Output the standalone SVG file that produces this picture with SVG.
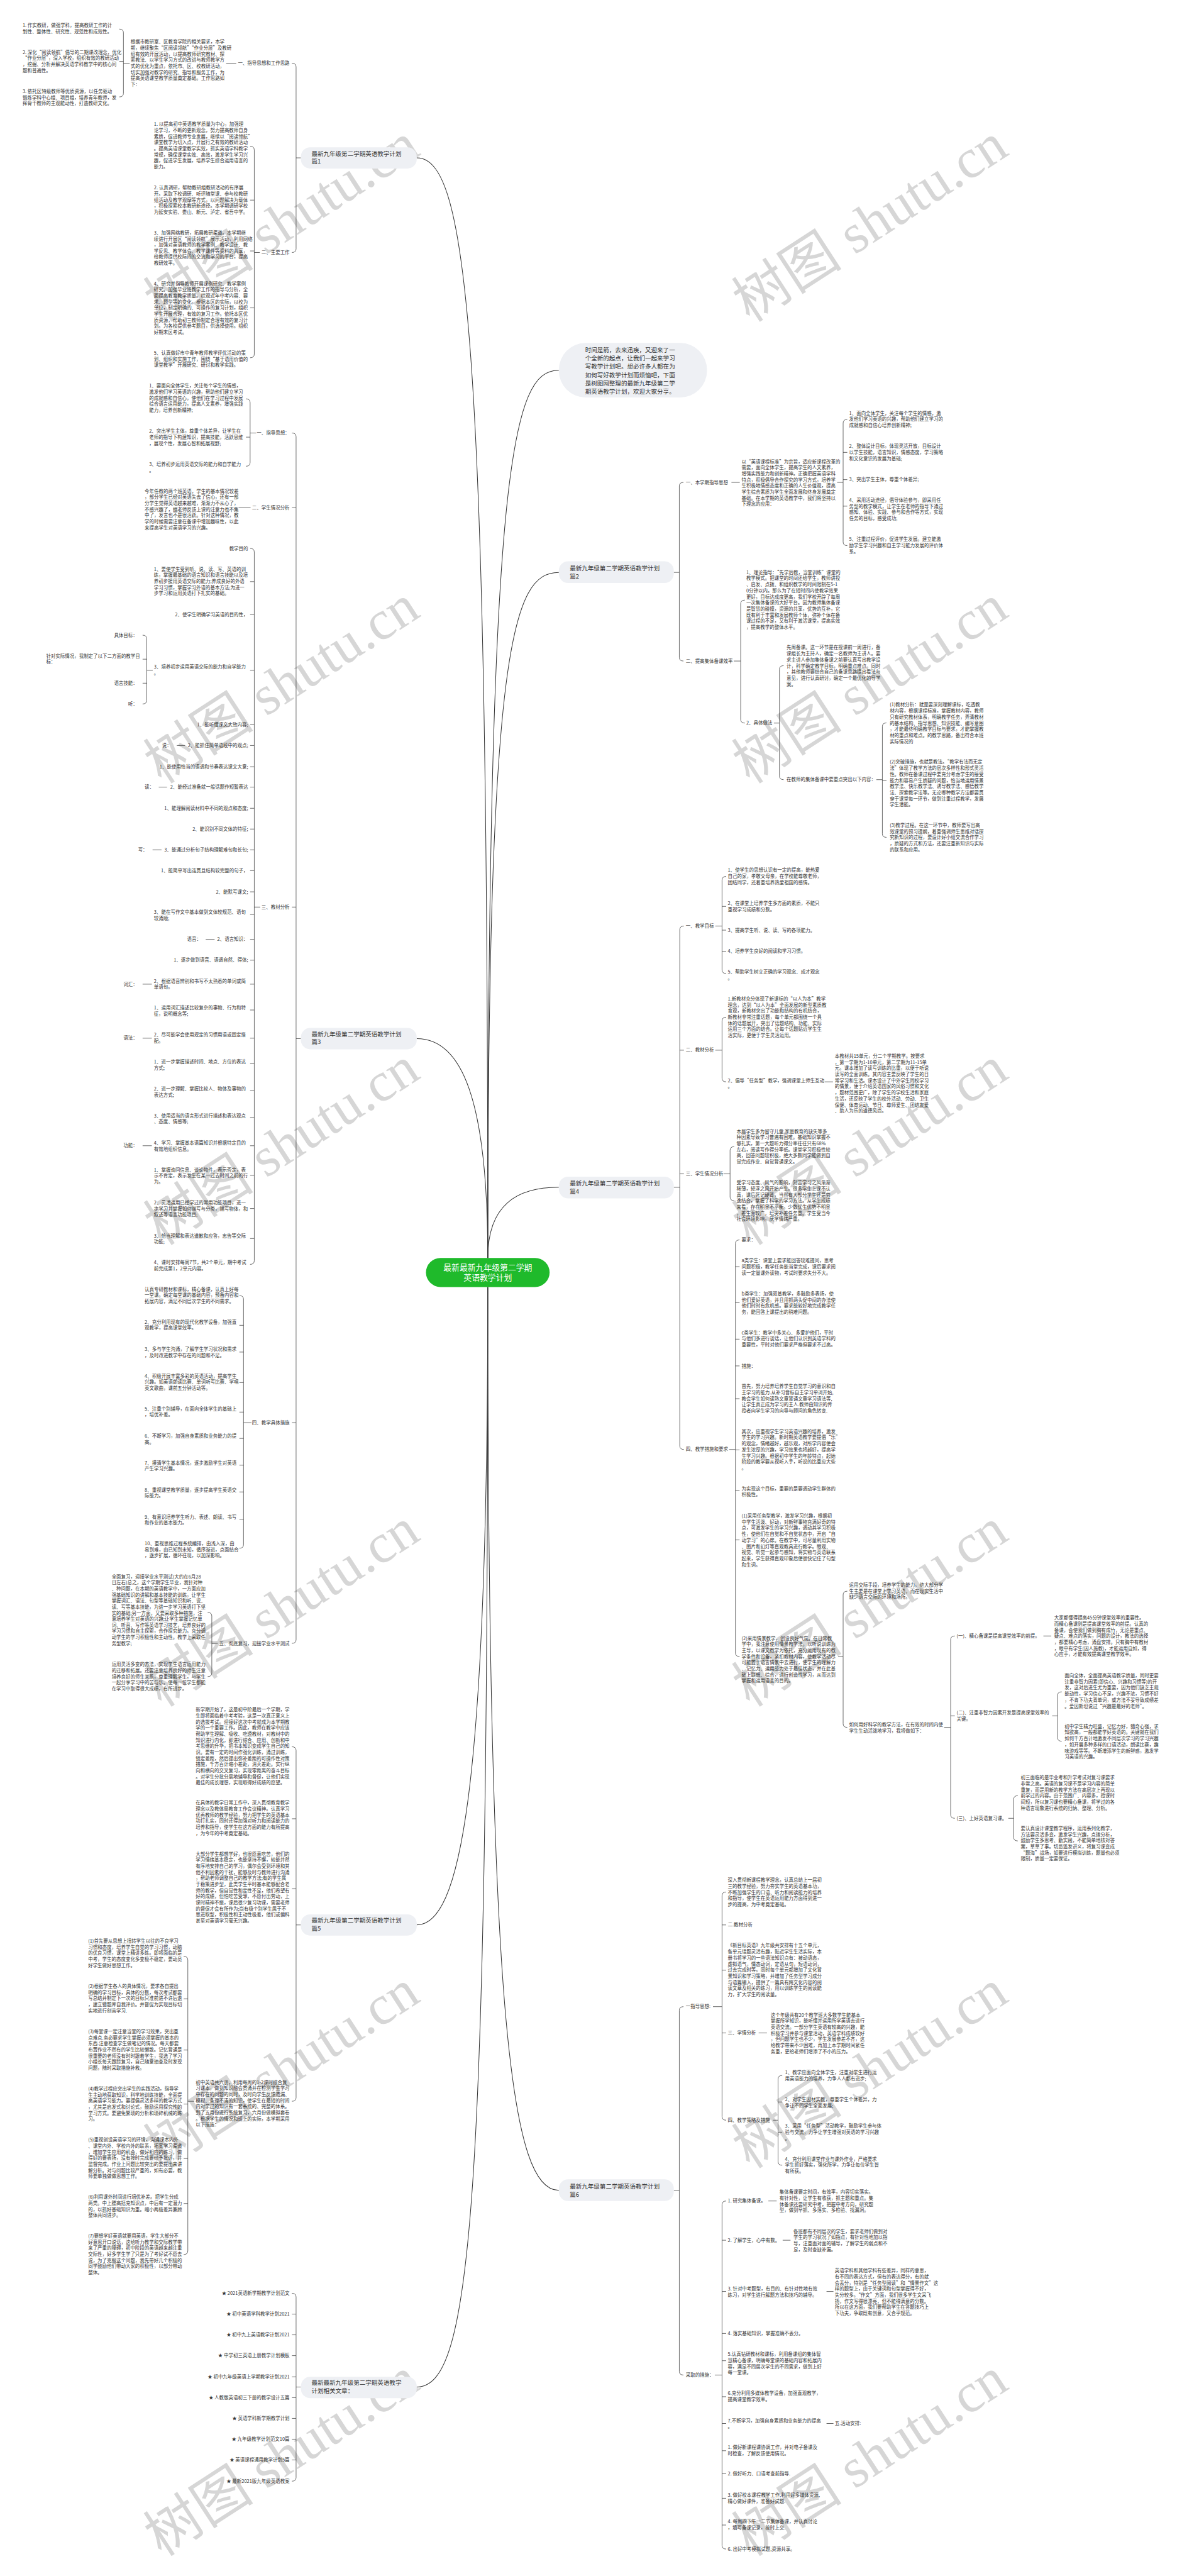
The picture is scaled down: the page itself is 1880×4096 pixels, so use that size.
<svg xmlns="http://www.w3.org/2000/svg" width="1880" height="4096" viewBox="0 0 1880 4096">
<style>
.p{font-family:"Noto Sans CJK SC","Noto Sans",sans-serif;font-size:10.2px;fill:#333}
.e{text-anchor:end}
.n{font-family:"Noto Sans CJK SC","Noto Sans",sans-serif;font-size:13px;fill:#333}
.c{font-family:"Noto Sans CJK SC","Noto Sans",sans-serif;font-size:17.5px;fill:#fff;text-anchor:middle}
.l{fill:none;stroke:#333;stroke-width:1}
.m{fill:none;stroke:#333;stroke-width:1.4}
.nb{fill:#eef0f4}
.w{font-family:"Liberation Serif","Noto Sans CJK SC",serif;font-size:120px;fill:#d6d6d6}
</style>
<rect width="1880" height="4096" fill="#fff"/>
<g transform="scale(0.734)">
<g id="watermarks">
<text class="w" transform="rotate(-33 350 700)" x="350" y="700">树图 shutu.cn</text>
<text class="w" transform="rotate(-33 350 1700)" x="350" y="1700">树图 shutu.cn</text>
<text class="w" transform="rotate(-33 350 2700)" x="350" y="2700">树图 shutu.cn</text>
<text class="w" transform="rotate(-33 350 3700)" x="350" y="3700">树图 shutu.cn</text>
<text class="w" transform="rotate(-33 350 4700)" x="350" y="4700">树图 shutu.cn</text>
<text class="w" transform="rotate(-33 350 5540)" x="350" y="5540">树图 shutu.cn</text>
<text class="w" transform="rotate(-33 1625 700)" x="1625" y="700">树图 shutu.cn</text>
<text class="w" transform="rotate(-33 1625 1700)" x="1625" y="1700">树图 shutu.cn</text>
<text class="w" transform="rotate(-33 1625 2700)" x="1625" y="2700">树图 shutu.cn</text>
<text class="w" transform="rotate(-33 1625 3700)" x="1625" y="3700">树图 shutu.cn</text>
<text class="w" transform="rotate(-33 1625 4700)" x="1625" y="4700">树图 shutu.cn</text>
<text class="w" transform="rotate(-33 1625 5540)" x="1625" y="5540">树图 shutu.cn</text>
</g>
<g id="connectors">
<path class="m" d="M1057,2725 C1057,700 1010,342 903,342"/>
<path class="m" d="M1057,2725 C1057,2380 1000,2250 903,2250"/>
<path class="m" d="M1057,2725 C1057,1000 1110,802 1211,802"/>
<path class="m" d="M1057,2725 C1057,1400 1110,1240 1211,1240"/>
<path class="m" d="M1057,2725 C1057,2610 1120,2572 1211,2572"/>
<path class="m" d="M1057,2788 C1057,3900 995,4170 903,4170"/>
<path class="m" d="M1057,2788 C1057,4800 1020,5171 903,5171"/>
<path class="m" d="M1057,2788 C1057,4400 1110,4745 1211,4745"/>
<path class="l" d="M632.6,137 Q641.6,137 641.6,145 L641.6,539 Q641.6,547 632.6,547 M641.6,342 H652"/>
<path class="l" d="M258.5,63 Q267.5,63 267.5,71 L267.5,202 Q267.5,210 258.5,210 M267.5,133 H258.5 M267.5,137 H281"/>
<path class="l" d="M490,137 H512"/>
<path class="l" d="M542,317 Q551,317 551,325 L551,767 Q551,775 542,775 M551,433.5 H542 M551,543.7 H542 M551,667 H542 M551,547 H563"/>
<path class="l" d="M632.6,938 Q641.6,938 641.6,946 L641.6,3552 Q641.6,3560 632.6,3560 M641.6,1100 H632.6 M641.6,1965 H632.6 M641.6,3082 H632.6 M641.6,2250 H652"/>
<path class="l" d="M533,864 Q542,864 542,872 L542,1002 Q542,1010 533,1010 M542,947 H533 M542,938 H555"/>
<path class="l" d="M517,1100 H543"/>
<path class="l" d="M542,1188 Q551,1188 551,1196 L551,2731 Q551,2739 542,2739 M551,1260 H542 M551,1331 H542 M551,1452 H542 M551,1570 H542 M551,1615 H542 M551,1661 H542 M551,1705 H542 M551,1751 H542 M551,1796 H542 M551,1841 H542 M551,1886 H542 M551,1932 H542 M551,1981 H542 M551,2035 H542 M551,2080 H542 M551,2132 H542 M551,2188 H542 M551,2249 H542 M551,2304 H542 M551,2363 H542 M551,2421 H542 M551,2482 H542 M551,2546 H542 M551,2618 H542 M551,2683 H542 M551,1965 H564"/>
<path class="l" d="M309,1376 Q318,1376 318,1384 L318,1517 Q318,1525 309,1525 M318,1428 H309 M318,1480 H309 M318,1452 H331"/>
<path class="l" d="M383,1615 H401 M344,1705 H362 M330.6,1841 H350 M445.7,2035 H465 M309,2132 H329 M309,2249 H329 M309,2482 H329"/>
<path class="l" d="M518.7,2806.6 Q527.7,2806.6 527.7,2814.6 L527.7,3346 Q527.7,3354 518.7,3354 M527.7,2871 H518.7 M527.7,2929 H518.7 M527.7,2995 H518.7 M527.7,3059 H518.7 M527.7,3116 H518.7 M527.7,3174 H518.7 M527.7,3232 H518.7 M527.7,3291 H518.7 M527.7,3082 H545"/>
<path class="l" d="M450,3493 Q459,3493 459,3501 L459,3624 Q459,3632 450,3632 M459,3560 H472"/>
<path class="l" d="M632.6,3784 Q641.6,3784 641.6,3792 L641.6,4544 Q641.6,4552 632.6,4552 M641.6,3940 H632.6 M641.6,4091.5 H632.6 M641.6,4170 H652"/>
<path class="l" d="M398,4238 Q407,4238 407,4246 L407,4876 Q407,4884 398,4884 M407,4330 H398 M407,4441 H398 M407,4558 H398 M407,4676 H398 M407,4773.5 H398 M407,4552 H421"/>
<path class="l" d="M632.6,4968 Q641.6,4968 641.6,4976 L641.6,5367 Q641.6,5375 632.6,5375 M641.6,5013 H632.6 M641.6,5058 H632.6 M641.6,5103 H632.6 M641.6,5149 H632.6 M641.6,5194 H632.6 M641.6,5239 H632.6 M641.6,5284 H632.6 M641.6,5329 H632.6 M641.6,5171 H652"/>
<path class="l" d="M1481,1045 Q1472,1045 1472,1053 L1472,1424 Q1472,1432 1481,1432 M1460,1240 H1472"/>
<path class="l" d="M1585,1045 H1603"/>
<path class="l" d="M1836,908.6 Q1827,908.6 1827,916.6 L1827,1174 Q1827,1182 1836,1182 M1827,980 H1836 M1827,1039 H1836 M1827,1096.5 H1836 M1814,1045 H1827"/>
<path class="l" d="M1614,1300 Q1605,1300 1605,1308 L1605,1558.4 Q1605,1566.4 1614,1566.4 M1590,1432 H1605"/>
<path class="l" d="M1698,1442 Q1689,1442 1689,1450 L1689,1681 Q1689,1689 1698,1689 M1677,1566.4 H1689"/>
<path class="l" d="M1921,1566 Q1912,1566 1912,1574 L1912,1806 Q1912,1814 1921,1814 M1912,1691 H1921 M1899,1689 H1912"/>
<path class="l" d="M1482,2006 Q1473,2006 1473,2014 L1473,3132 Q1473,3140 1482,3140 M1473,2275 H1482 M1473,2543 H1482 M1460,2572 H1473"/>
<path class="l" d="M1573.6,1898.6 Q1564.6,1898.6 1564.6,1906.6 L1564.6,2101 Q1564.6,2109 1573.6,2109 M1564.6,1963.6 H1573.6 M1564.6,2015 H1573.6 M1564.6,2061 H1573.6 M1550,2006 H1564.6"/>
<path class="l" d="M1573.6,2203.6 Q1564.6,2203.6 1564.6,2211.6 L1564.6,2335.6 Q1564.6,2343.6 1573.6,2343.6 M1550,2275 H1564.6"/>
<path class="l" d="M1787,2343.6 H1805"/>
<path class="l" d="M1591,2484 Q1582,2484 1582,2492 L1582,2593 Q1582,2601 1591,2601 M1568,2543 H1582"/>
<path class="l" d="M1602.6,2686 Q1593.6,2686 1593.6,2694 L1593.6,3580.6 Q1593.6,3588.6 1602.6,3588.6 M1593.6,2744 H1602.6 M1593.6,2822 H1602.6 M1593.6,2901 H1602.6 M1593.6,2959 H1602.6 M1593.6,3030 H1602.6 M1593.6,3141 H1602.6 M1593.6,3229 H1602.6 M1593.6,3336 H1602.6 M1580,3140 H1593.6"/>
<path class="l" d="M1836,3447 Q1827,3447 1827,3455 L1827,3734 Q1827,3742 1836,3742 M1816,3588.6 H1827"/>
<path class="l" d="M2069,3544 Q2060,3544 2060,3552 L2060,3931 Q2060,3939 2069,3939 M2060,3717 H2069 M2046,3742 H2060"/>
<path class="l" d="M2261,3544 H2278"/>
<path class="l" d="M2300.6,3665 Q2291.6,3665 2291.6,3673 L2291.6,3764 Q2291.6,3772 2300.6,3772 M2280,3717 H2291.6"/>
<path class="l" d="M2205.5,3890 Q2196.5,3890 2196.5,3898 L2196.5,3980 Q2196.5,3988 2205.5,3988 M2185,3939 H2196.5"/>
<path class="l" d="M1481,4347 Q1472,4347 1472,4355 L1472,5137 Q1472,5145 1481,5145 M1460,4745 H1472"/>
<path class="l" d="M1573.6,4098.6 Q1564.6,4098.6 1564.6,4106.6 L1564.6,4585 Q1564.6,4593 1573.6,4593 M1564.6,4170 H1573.6 M1564.6,4268 H1573.6 M1564.6,4404 H1573.6 M1545,4347 H1564.6"/>
<path class="l" d="M1644,4404 H1662"/>
<path class="l" d="M1695,4496 Q1686,4496 1686,4504 L1686,4682.6 Q1686,4690.6 1695,4690.6 M1686,4553.5 H1695 M1686,4619 H1695 M1675,4593 H1686"/>
<path class="l" d="M1573.6,4768 Q1564.6,4768 1564.6,4776 L1564.6,5514 Q1564.6,5522 1573.6,5522 M1564.6,4853 H1573.6 M1564.6,4964 H1573.6 M1564.6,5055 H1573.6 M1564.6,5114 H1573.6 M1564.6,5192 H1573.6 M1564.6,5250 H1573.6 M1564.6,5309 H1573.6 M1564.6,5359 H1573.6 M1564.6,5412 H1573.6 M1564.6,5470 H1573.6 M1549,5145 H1564.6"/>
<path class="l" d="M1665,4768 H1683 M1696,4853 H1713 M1791,4964 H1806 M1791,5250 H1806"/>
</g>

<g id="center">
<rect x="923" y="2725" width="268" height="63" rx="31.5" fill="#1fba2b"/>
<text class="c" x="1057" y="2751.8">最新最新九年级第二学期</text>
<text class="c" x="1057" y="2774.4">英语教学计划</text>
</g>

<g id="intro">
<rect class="nb" x="1211" y="743" width="321" height="118" rx="58"/>
<text class="n" x="1268" y="763.2">时间是箭，去来迅疾，又迎来了一<tspan x="1268" dy="17.9">个全新的起点，让我们一起来学习</tspan><tspan x="1268" dy="17.9">写教学计划吧。想必许多人都在为</tspan><tspan x="1268" dy="17.9">如何写好教学计划而烦恼吧，下面</tspan><tspan x="1268" dy="17.9">是树图网整理的最新九年级第二学</tspan><tspan x="1268" dy="17.9">期英语教学计划，欢迎大家分享。</tspan></text>
</g>

<!-- 篇1 -->
<g id="b1">
<rect class="nb" x="652" y="319" width="251" height="46" rx="20"/>
<text class="n" x="675" y="337.2">最新九年级第二学期英语教学计划<tspan x="675" dy="17.5">篇1</tspan></text>
</g>
<g id="b1-c1"><text class="p e" x="627.5" y="140.6">一、指导思想和工作思路</text></g>
<g id="b1-c1-p"><text class="p" x="283" y="94.6">根据市教研室、区教育学院的相关要求，本学<tspan x="283" dy="13.15">期，继续聚焦“区阅读领航”“作业分层”及教研</tspan><tspan x="283" dy="13.15">组有效的开展活动，以提高教师研究教材、探</tspan><tspan x="283" dy="13.15">索教法、以学生学习方式的改进与教师教学方</tspan><tspan x="283" dy="13.15">式的优化为重点，依托市、区、校教研活动，</tspan><tspan x="283" dy="13.15">切实加强对教学的研究、指导和服务工作，为</tspan><tspan x="283" dy="13.15">提高英语课堂教学质量奠定基础。工作思路如</tspan><tspan x="283" dy="13.15">下：</tspan></text></g>
<g id="b1-a1"><text class="p" x="49" y="58.6">1. 作实教研，做强学科，提高教研工作的计<tspan x="49" dy="13.15">划性、整体性、研究性、规范性和成效性。</tspan></text></g>
<g id="b1-a2"><text class="p" x="49" y="116.6">2. 深化“阅读领航”倡导的二期课改理念，优化<tspan x="49" dy="13.15">“作业分层”，深入学校，组织有效的教研活动</tspan><tspan x="49" dy="13.15">，挖掘、分析并解决英语学科教学中的核心问</tspan><tspan x="49" dy="13.15">题和普遍性。</tspan></text></g>
<g id="b1-a3"><text class="p" x="49" y="201.6">3. 依托区特级教师等优质资源，以任务驱动<tspan x="49" dy="13.15">锻炼学科中心组、项目组，培养青年教师，发</tspan><tspan x="49" dy="13.15">挥骨干教师的主观能动性，打造教研文化。</tspan></text></g>
<g id="b1-c2"><text class="p e" x="627.5" y="550.6">二、主要工作</text></g>
<g id="b1-c2-1"><text class="p" x="333.6" y="273">1. 以提高初中英语教学质量为中心，加强理<tspan x="333.6" dy="13.15">论学习，不断的更新观念，努力提高教师自身</tspan><tspan x="333.6" dy="13.15">素质，促进教师专业发展，继续以“阅读领航”</tspan><tspan x="333.6" dy="13.15">课堂教学为切入点，开展行之有效的教研活动</tspan><tspan x="333.6" dy="13.15">。提高英语课堂教学实效，抓实英语学科教学</tspan><tspan x="333.6" dy="13.15">常规，确保课堂实效、高效，激发学生学习兴</tspan><tspan x="333.6" dy="13.15">趣，促进学生发展，培养学生综合运用语言的</tspan><tspan x="333.6" dy="13.15">能力。</tspan></text></g>
<g id="b1-c2-2"><text class="p" x="333.6" y="410.5">2. 认真调研，帮助教研组教研活动的有序展<tspan x="333.6" dy="13.15">开。采取下校调研、听评随堂课、参与校教研</tspan><tspan x="333.6" dy="13.15">组活动及教学观摩等方式，以问题解决为载体</tspan><tspan x="333.6" dy="13.15">，积极探索校本教研新途径。本学期调研学校</tspan><tspan x="333.6" dy="13.15">为延安实验、娄山、新元、泸定、省吾中学。</tspan></text></g>
<g id="b1-c2-3"><text class="p" x="333.6" y="508">3、加强网络教研，拓展教研渠道。本学期继<tspan x="333.6" dy="13.15">续进行开展区“阅读领航”展示活动，利用网络</tspan><tspan x="333.6" dy="13.15">，加强对英语教师的教学案例、教学设计、教</tspan><tspan x="333.6" dy="13.15">学反思、教学体会、教学课件等资料的共享，</tspan><tspan x="333.6" dy="13.15">给教师提供校际间的交流和学习的平台，提高</tspan><tspan x="333.6" dy="13.15">教研效率。</tspan></text></g>
<g id="b1-c2-4"><text class="p" x="333.6" y="618.1">4、研究并指导教师开展课例研究、教学案例<tspan x="333.6" dy="13.15">研究。加强毕业班教学工作的指导与分析，全</tspan><tspan x="333.6" dy="13.15">面提高教育教学质量。综观近年中考内容、要</tspan><tspan x="333.6" dy="13.15">求、题型等的变化，根据本区的实际，以校为</tspan><tspan x="333.6" dy="13.15">单位，制定明确的、可操作的复习计划，组织</tspan><tspan x="333.6" dy="13.15">学生开展合理，有效的复习工作。依托本区优</tspan><tspan x="333.6" dy="13.15">质资源，帮助初三教师制定合理有效的复习计</tspan><tspan x="333.6" dy="13.15">划。为各校提供参考题目，供选择使用。组织</tspan><tspan x="333.6" dy="13.15">好期末区考试。</tspan></text></g>
<g id="b1-c2-5"><text class="p" x="333.6" y="768.2">5、认真做好市中青年教师教学评优活动的策<tspan x="333.6" dy="13.15">划、组织和实施工作，围绕“基于语用价值的</tspan><tspan x="333.6" dy="13.15">课堂教学”开展研究、研讨和教学实践。</tspan></text></g>

<!-- 篇3 -->
<g id="b3">
<rect class="nb" x="652" y="2227" width="251" height="46" rx="20"/>
<text class="n" x="675" y="2244.6">最新九年级第二学期英语教学计划<tspan x="675" dy="17.5">篇3</tspan></text>
</g>
<g id="b3-c1"><text class="p e" x="627.5" y="941.6">一、指导思想：</text></g>
<g id="b3-c1-1"><text class="p" x="323.2" y="839.6">1、要面向全体学生，关注每个学生的情感，<tspan x="323.2" dy="13.15">激发他们学习英语的兴趣，帮助他们建立学习</tspan><tspan x="323.2" dy="13.15">的成就感和自信心，使他们在学习过程中发展</tspan><tspan x="323.2" dy="13.15">综合语言运用能力，提高人文素养，增强实践</tspan><tspan x="323.2" dy="13.15">能力，培养创新精神;</tspan></text></g>
<g id="b3-c1-2"><text class="p" x="323.2" y="937.6">2、突出学生主体，尊重个体差异，让学生在<tspan x="323.2" dy="13.15">老师的指导下构建知识，提高技能，活跃思维</tspan><tspan x="323.2" dy="13.15">，展现个性，发展心智和拓展视野;</tspan></text></g>
<g id="b3-c1-3"><text class="p" x="323.2" y="1009.6">3、培养初步运用英语交际的能力和自学能力<tspan x="323.2" dy="13.15">。</tspan></text></g>
<g id="b3-c2"><text class="p e" x="627.5" y="1103.6">二、学生情况分析</text></g>
<g id="b3-c2-1"><text class="p" x="313.5" y="1067.6">今年任教的两个班英语，学生的基本情况较差<tspan x="313.5" dy="13.15">，部分学生已经对英语失去了信心，还有一部</tspan><tspan x="313.5" dy="13.15">分学生觉得英语越来越难，渐渐力不从心了，</tspan><tspan x="313.5" dy="13.15">不感兴趣了，据老师反馈上课的注意力也不集</tspan><tspan x="313.5" dy="13.15">中了，发言也不是很活跃。针对这种情况，教</tspan><tspan x="313.5" dy="13.15">学的时候需要注意在备课中增加趣味性，以此</tspan><tspan x="313.5" dy="13.15">来提高学生对英语学习的兴趣。</tspan></text></g>
<g id="b3-c3"><text class="p e" x="627.5" y="1968.6">三、教材分析</text></g>
<g id="b3-c3-items">
<text class="p e" x="537.5" y="1191.6">教学目的</text>
<text class="p" x="333.6" y="1236.6">1、要使学生受到听、说、读、写、英语的训<tspan x="333.6" dy="13.15">练，掌握最基础的语言知识和语言技能以及培</tspan><tspan x="333.6" dy="13.15">养初步援用英语交际的能力;养成良好的外语</tspan><tspan x="333.6" dy="13.15">学习习惯，掌握学习外语的基本方法;为进一</tspan><tspan x="333.6" dy="13.15">步学习和运用英语打下扎实的基础。</tspan></text>
<text class="p e" x="537.5" y="1334.6">2、使学生明确学习英语的目的性，</text>
<text class="p" x="333.6" y="1448.1">3、培养初步运用英语交际的能力和自学能力<tspan x="333.6" dy="13.15">。</tspan></text>
<text class="p e" x="298" y="1379.6">具体目标：</text>
<text class="p" x="100" y="1424.6">针对实际情况，我制定了以下二方面的教学目<tspan x="100" dy="13.15">标：</tspan></text>
<text class="p e" x="298" y="1483.6">语言技能：</text>
<text class="p e" x="298" y="1528.6">听：</text>
<text class="p e" x="537.5" y="1573.6">1、能听懂课文大致内容;</text>
<text class="p e" x="537.5" y="1618.6">2、能抓住简单语段中的观点;</text>
<text class="p e" x="371.6" y="1618.6">说：</text>
<text class="p e" x="537.5" y="1664.6">1、能使用恰当的语调和节奏表达课文大意;</text>
<text class="p e" x="537.5" y="1708.6">2、能经过准备就一般话题作短暂表达</text>
<text class="p e" x="333.6" y="1708.6">读：</text>
<text class="p e" x="537.5" y="1754.6">1、能理解阅读材料中不同的观点和态度;</text>
<text class="p e" x="537.5" y="1799.6">2、能识别不同文体的特征;</text>
<text class="p e" x="537.5" y="1844.6">3、能通过分析句子结构理解难句和长句;</text>
<text class="p e" x="319.6" y="1844.6">写：</text>
<text class="p e" x="537.5" y="1889.6">1、能简单写出连贯且结构较完整的句子，</text>
<text class="p e" x="537.5" y="1935.6">2、能默写课文;</text>
<text class="p" x="333.6" y="1979.6">3、能在写作文中基本做到文体较规范、语句<tspan x="333.6" dy="13.15">较通顺;</tspan></text>
<text class="p e" x="537.5" y="2038.6">2、语言知识：</text>
<text class="p e" x="436" y="2038.6">语音：</text>
<text class="p e" x="537.5" y="2083.6">1、逐步做到语音、语调自然、得体;</text>
<text class="p" x="333.6" y="2129.2">2、根据语音辨别和书写不太熟悉的单词或简<tspan x="333.6" dy="13.15">单语句。</tspan></text>
<text class="p e" x="298" y="2135.6">词汇：</text>
<text class="p" x="333.6" y="2186.6">1、运用词汇描述比较复杂的事物、行为和特<tspan x="333.6" dy="13.15">征，说明概念等;</tspan></text>
<text class="p" x="333.6" y="2245.6">2、尽可能学会使用规定的习惯用语或固定搭<tspan x="333.6" dy="13.15">配。</tspan></text>
<text class="p e" x="298" y="2252.6">语法：</text>
<text class="p" x="333.6" y="2304.2">1、进一步掌握描述时间、地点、方位的表达<tspan x="333.6" dy="13.15">方式;</tspan></text>
<text class="p" x="333.6" y="2362.6">2、进一步理解、掌握比较人、物体及事物的<tspan x="333.6" dy="13.15">表达方式;</tspan></text>
<text class="p" x="333.6" y="2420.6">3、使用适当的语言形式进行描述和表达观点<tspan x="333.6" dy="13.15">、态度、情感等;</tspan></text>
<text class="p" x="333.6" y="2479.6">4、学习、掌握基本语篇知识并根据特定目的<tspan x="333.6" dy="13.15">有效地组织信息。</tspan></text>
<text class="p e" x="298" y="2485.6">功能：</text>
<text class="p" x="333.6" y="2537.6">1、掌握询问信息、谈论物件，表示否定，表<tspan x="333.6" dy="13.15">示不肯定，表示发生在某一过去时间之前的行</tspan><tspan x="333.6" dy="13.15">为。</tspan></text>
<text class="p" x="333.6" y="2609.1">2、灵活运用已经学过的常用功能项目，进一<tspan x="333.6" dy="13.15">步学习并掌握如何描写与分类，描写物体，和</tspan><tspan x="333.6" dy="13.15">叙述等语言功能项目;</tspan></text>
<text class="p" x="333.6" y="2680.6">3、恰当理解和表达道歉和应答，忠告等交际<tspan x="333.6" dy="13.15">功能;</tspan></text>
<text class="p" x="333.6" y="2738.6">4、课时安排每周7节，共2个单元，期中考试<tspan x="333.6" dy="13.15">前完成第1，2单元内容。</tspan></text>
</g>
<g id="b3-c4"><text class="p e" x="627.5" y="3085.6">四、教学具体措施</text></g>
<g id="b3-c4-items">
<text class="p" x="313.5" y="2796.6">认真专研教材和课标，精心备课，认真上好每<tspan x="313.5" dy="13.15">一堂课。确定每堂课的基础内容，预备内容和</tspan><tspan x="313.5" dy="13.15">拓展内容，满足不同层次学生的不同需求。</tspan></text>
<text class="p" x="313.5" y="2867.6">2、充分利用现有的现代化教学设备，加强直<tspan x="313.5" dy="13.15">观教学，提高课堂效率。</tspan></text>
<text class="p" x="313.5" y="2926.6">3、多与学生沟通，了解学生学习状况和需求<tspan x="313.5" dy="13.15">，及时改进教学中存在的问题和不足。</tspan></text>
<text class="p" x="313.5" y="2984.6">4、积极开展丰富多彩的英语活动，提高学生<tspan x="313.5" dy="13.15">兴趣。如英语朗读比赛、单词听写比赛、学唱</tspan><tspan x="313.5" dy="13.15">英文歌曲，课前五分钟活动等。</tspan></text>
<text class="p" x="313.5" y="3055.6">5、注重个别辅导，在面向全体学生的基础上<tspan x="313.5" dy="13.15">，培优补差。</tspan></text>
<text class="p" x="313.5" y="3114.6">6、不断学习，加强自身素质和业务能力的提<tspan x="313.5" dy="13.15">高。</tspan></text>
<text class="p" x="313.5" y="3172.6">7、摸清学生基本情况，逐步激励学生对英语<tspan x="313.5" dy="13.15">产生学习兴趣。</tspan></text>
<text class="p" x="313.5" y="3231.1">8、重视课堂教学质量，逐步提高学生英语交<tspan x="313.5" dy="13.15">际能力。</tspan></text>
<text class="p" x="313.5" y="3289.6">9、有意识培养学生听力、表述、朗读、书写<tspan x="313.5" dy="13.15">和作业的基本能力。</tspan></text>
<text class="p" x="313.5" y="3347.6">10、重视思维过程系统编排，由浅入深，由<tspan x="313.5" dy="13.15">易到难，由已知到未知，循序渐进，点面结合</tspan><tspan x="313.5" dy="13.15">，逐步扩展，循环往现，以加深影响。</tspan></text>
</g>
<g id="b3-c5"><text class="p e" x="627.5" y="3563.6">五、彻底复习，迎接学业水平测试</text></g>
<g id="b3-c5-items">
<text class="p" x="242" y="3419.1">全面复习，迎接学业水平测试(大约在6月28<tspan x="242" dy="13.15">日左右)总之，这个学期学生毕业，我针对种</tspan><tspan x="242" dy="13.15">、种问题，在本期的英语教学中，一方面应加</tspan><tspan x="242" dy="13.15">强基础知识的讲解和基本技能的训练，让学生</tspan><tspan x="242" dy="13.15">掌握词汇、语法、句型等基础知识和听、说、</tspan><tspan x="242" dy="13.15">读、写等基本技能，为进一步学习英语打下坚</tspan><tspan x="242" dy="13.15">实的基础;另一方面，又要采取多种措施，注</tspan><tspan x="242" dy="13.15">意培养学生对英语的兴趣;让学生掌握记忆单</tspan><tspan x="242" dy="13.15">词、听音、写作等英语学习技艺，培养良好的</tspan><tspan x="242" dy="13.15">学习习惯和自主探索，合作探究能力。充分调</tspan><tspan x="242" dy="13.15">动学生的学习积极性和主动性。教学上采取任</tspan><tspan x="242" dy="13.15">务型教学;</tspan></text>
<text class="p" x="242" y="3609.6">运用灵活多变的方法，实现学生语言运用能力<tspan x="242" dy="13.15">的迁移和拓展。还要注意培养良好的师生注意</tspan><tspan x="242" dy="13.15">培养良好的师生关系，尊重理解学生，与学生</tspan><tspan x="242" dy="13.15">一起分享学习中的苦与乐。使每一位学生都能</tspan><tspan x="242" dy="13.15">在学习中取得很大成绩，有所进步。</tspan></text>
</g>

<!-- 篇5 -->
<g id="b5">
<rect class="nb" x="652" y="4147" width="251" height="46" rx="20"/>
<text class="n" x="675" y="4164.6">最新九年级第二学期英语教学计划<tspan x="675" dy="17.5">篇5</tspan></text>
</g>
<g id="b5-items">
<text class="p" x="424" y="3707.6">新学期开始了，这是初中阶最后一个学期，学<tspan x="424" dy="13.15">生即将面临着中考考验，这是一次真正意义上</tspan><tspan x="424" dy="13.15">的选拔考试。迎接好这次中考就成为本学期教</tspan><tspan x="424" dy="13.15">学的一个重要工作。因此，教师在教学中应该</tspan><tspan x="424" dy="13.15">帮助学生理解、吸收、吃透教材，对教材中的</tspan><tspan x="424" dy="13.15">知识进行内化，即进行综合、应用、创新和中</tspan><tspan x="424" dy="13.15">考思维的升华，把书本知识变成学生自己的知</tspan><tspan x="424" dy="13.15">识。要有一定的时间作强化训练，通过训练，</tspan><tspan x="424" dy="13.15">锁定差距，然后提出弥补差距的可操作性对策</tspan><tspan x="424" dy="13.15">措施，千方百计缩小差距，消灭差距。实行纵</tspan><tspan x="424" dy="13.15">向和横向的交叉复习，实现零距离的奋斗目标</tspan><tspan x="424" dy="13.15">。对学生分批分层地辅导和督促，让他们实现</tspan><tspan x="424" dy="13.15">最佳的成长理想，实现取得好成绩的愿望。</tspan></text>
<text class="p" x="424" y="3909.2">在具体的教学日常工作中，深入贯彻教育教学<tspan x="424" dy="13.15">理念以及教体局教育工作会议精神。认真学习</tspan><tspan x="424" dy="13.15">优秀教师的教学经验，努力把学生的英语基本</tspan><tspan x="424" dy="13.15">功打扎实，同时还得加强对听力和阅读能力的</tspan><tspan x="424" dy="13.15">培养和指导，使学生在这方面的能力有所提高</tspan><tspan x="424" dy="13.15">，为今年的中考奠定基础。</tspan></text>
<text class="p" x="424" y="4020.2">大部分学生都想学好，也很愿意吃苦，他们的<tspan x="424" dy="13.15">学习情绪基本稳定，也能坚持不懈，较能井然</tspan><tspan x="424" dy="13.15">有序地安排自己的学习，偶尔会受到环境和其</tspan><tspan x="424" dy="13.15">他不利因素的干扰，能够及时与教师进行沟通</tspan><tspan x="424" dy="13.15">，帮助老师调整自己的教学方法;有的学生属</tspan><tspan x="424" dy="13.15">于稳策进步型，此类学生平时基本能够配合老</tspan><tspan x="424" dy="13.15">师的教学，但自觉性和定性不足，他们希望有</tspan><tspan x="424" dy="13.15">好的成绩，但怕吃苦受罪，不愿付出劳动，上</tspan><tspan x="424" dy="13.15">课时精神不振，课后很少复习功课，需要老师</tspan><tspan x="424" dy="13.15">的督促才会有所作为;尚有极个别学生属于不</tspan><tspan x="424" dy="13.15">思进取型，积极性和主动性极差，他们或偏科</tspan><tspan x="424" dy="13.15">甚至对英语学习毫无兴趣。</tspan></text>
<text class="p" x="424" y="4514.6">初中英语共六册，利用每周的1-2课时综合复<tspan x="424" dy="13.15">习课本，做到知识融会贯通并在检测学生学习</tspan><tspan x="424" dy="13.15">中存在的问题的同时，及时向学生反馈遗漏、</tspan><tspan x="424" dy="13.15">模糊、条理不清的知识，使学生在最短的时间</tspan><tspan x="424" dy="13.15">内对学过的知识有一套系统的、完整的体系。</tspan><tspan x="424" dy="13.15">到了五月份进行系统复习，六月份做模拟套卷</tspan><tspan x="424" dy="13.15">。根据学生的情况和班上的实际，本学期采用</tspan><tspan x="424" dy="13.15">以下措施：</tspan></text>
</g>
<g id="b5-sub">
<text class="p" x="191" y="4208.6">(1)首先要从思想上扭转学生以往的不良学习<tspan x="191" dy="13.15">习惯和态度，培养学生自觉的学习习惯，动脑</tspan><tspan x="191" dy="13.15">的优良习惯，课堂上精讲多练。即将面临的是</tspan><tspan x="191" dy="13.15">中考，学生的态度变化多变极不稳定，要动员</tspan><tspan x="191" dy="13.15">好学生做好思想工作。</tspan></text>
<text class="p" x="191" y="4306.6">(2)根据学生各人的具体情况，要求各自提出<tspan x="191" dy="13.15">明确的学习目标，具体的分数，每次考试都要</tspan><tspan x="191" dy="13.15">写总结并制定下一次的目标只准前进不许后退</tspan><tspan x="191" dy="13.15">，建立错题库自我评价。并督促为实现目标切</tspan><tspan x="191" dy="13.15">实地进行刻苦学习.</tspan></text>
<text class="p" x="191" y="4404.6">(3)每堂课一定注意当堂的学习效果，突出重<tspan x="191" dy="13.15">点难点.务必要求学生掌握必须掌握的基本的</tspan><tspan x="191" dy="13.15">东西.注意检查学生做笔记的情况。每天都要</tspan><tspan x="191" dy="13.15">布置作业不然有的学生比较懒散。记忆背诵是</tspan><tspan x="191" dy="13.15">很重要的老师没有时时跟着学生，我选了学习</tspan><tspan x="191" dy="13.15">小组长每天跟踪复习，自己随意抽查及时发现</tspan><tspan x="191" dy="13.15">问题，随时采取措施补救。</tspan></text>
<text class="p" x="191" y="4528.6">(4)教学过程应突出学生的实践活动，指导学<tspan x="191" dy="13.15">生主动地获取知识，科学地训练技能，全面提</tspan><tspan x="191" dy="13.15">高英语学习能力。要提倡灵活多样的教学方式</tspan><tspan x="191" dy="13.15">，尤其是启发式和讨论式，鼓励运用探究性的</tspan><tspan x="191" dy="13.15">学习方式。要避免繁琐的分析和琐碎机械的练</tspan><tspan x="191" dy="13.15">习。</tspan></text>
<text class="p" x="191" y="4639.6">(5)重视创设英语学习的环境，沟通课本内外<tspan x="191" dy="13.15">、课堂内外、学校内外的联系，拓宽学习渠道</tspan><tspan x="191" dy="13.15">，增加学生应用的机会，做好相应的练习，做</tspan><tspan x="191" dy="13.15">得好的要表扬，没有按时完成要给予批评，并</tspan><tspan x="191" dy="13.15">监督完成。作业上问题比较突出的要提出来讲</tspan><tspan x="191" dy="13.15">解分析。对与问题比较严重的，如有必要，教</tspan><tspan x="191" dy="13.15">师要单独做做思想工作。</tspan></text>
<text class="p" x="191" y="4763.6">(6)利用课外时间进行培优补差。把学生分成<tspan x="191" dy="13.15">两类。中上腰高括充知识点，中后有一定潜力</tspan><tspan x="191" dy="13.15">的，以抓好基础知识为重。缩小两极差异兼顾</tspan><tspan x="191" dy="13.15">整体共同进步。</tspan></text>
<text class="p" x="191" y="4847.6">(7)要想学好英语就要用英语，学生大部分不<tspan x="191" dy="13.15">好意思开口说话，这给听力教学和交际教学带</tspan><tspan x="191" dy="13.15">来了严重的障碍，初中阶段的英语越来越注重</tspan><tspan x="191" dy="13.15">交际性，好多学生学了只是为了考好试不愿去</tspan><tspan x="191" dy="13.15">说，为了克服这个问题，我先带好几个积极的</tspan><tspan x="191" dy="13.15">同学鼓励他们带动大家的积极性，以部分带动</tspan><tspan x="191" dy="13.15">整体。</tspan></text>
</g>

<!-- related -->
<g id="rel">
<rect class="nb" x="652" y="5149" width="251" height="46" rx="20"/>
<text class="n" x="675" y="5166.6">最新最新九年级第二学期英语教学<tspan x="675" dy="17.5">计划相关文章：</tspan></text>
</g>
<g id="rel-items">
<text class="p e" x="627.5" y="4971.6">★ 2021英语新学期教学计划范文</text>
<text class="p e" x="627.5" y="5016.6">★ 初中英语学科教学计划2021</text>
<text class="p e" x="627.5" y="5061.6">★ 初中九上英语教学计划2021</text>
<text class="p e" x="627.5" y="5106.6">★ 中学初三英语上册教学计划模板</text>
<text class="p e" x="627.5" y="5152.6">★ 初中九年级英语上学期教学计划2021</text>
<text class="p e" x="627.5" y="5197.6">★ 人教版英语初三下册的教学设计五篇</text>
<text class="p e" x="627.5" y="5242.6">★ 英语学科新学期教学计划</text>
<text class="p e" x="627.5" y="5287.6">★ 九年级教学计划范文10篇</text>
<text class="p e" x="627.5" y="5332.6">★ 英语课程通用教学计划5篇</text>
<text class="p e" x="627.5" y="5378.6">★ 最新2021版九年级英语教案</text>
</g>

<!-- 篇2 -->
<g id="b2">
<rect class="nb" x="1211" y="1216" width="249" height="47" rx="20"/>
<text class="n" x="1234.6" y="1235.6">最新九年级第二学期英语教学计划<tspan x="1234.6" dy="17.5">篇2</tspan></text>
</g>
<g id="b2-c1"><text class="p" x="1486" y="1048.6">一、本学期指导思想</text></g>
<g id="b2-c1-p"><text class="p" x="1607" y="1003.6">以“英语课程标准”为宗旨，适应新课程改革的<tspan x="1607" dy="13.2">需要，面向全体学生，提高学生的人文素养，</tspan><tspan x="1607" dy="13.2">增强实践能力和创新精神。正确把握英语学科</tspan><tspan x="1607" dy="13.2">特点，积极倡导合作探究的学习方式，培养学</tspan><tspan x="1607" dy="13.2">生积极地情感态度和正确的人生价值观，提高</tspan><tspan x="1607" dy="13.2">学生综合素质为学生全面发展和终身发展奠定</tspan><tspan x="1607" dy="13.2">基础。在本学期的英语教学中，我们将坚持以</tspan><tspan x="1607" dy="13.2">下理念的应用：</tspan></text></g>
<g id="b2-c1-items">
<text class="p" x="1840" y="898.6">1、面向全体学生，关注每个学生的情感，激<tspan x="1840" dy="13.2">发他们学习英语的兴趣，帮助他们建立学习的</tspan><tspan x="1840" dy="13.2">成就感和自信心培养创新精神;</tspan></text>
<text class="p" x="1840" y="970.6">2、整体设计目标，体现灵活开放，目标设计<tspan x="1840" dy="13.2">以学生技能，语言知识，情感态度，学习策略</tspan><tspan x="1840" dy="13.2">和文化意识的发展为基础;</tspan></text>
<text class="p" x="1840" y="1042.6">3、突出学生主体，尊重个体差异;</text>
<text class="p" x="1840" y="1087.2">4、采用活动途径，倡导体验参与，即采用任<tspan x="1840" dy="13.2">务型的教学模式，让学生在老师的指导下通过</tspan><tspan x="1840" dy="13.2">感知、体验、实践、参与和合作等方式，实现</tspan><tspan x="1840" dy="13.2">任务的目标，感受成功;</tspan></text>
<text class="p" x="1840" y="1172.2">5、注重过程评价，促进学生发展。建立能激<tspan x="1840" dy="13.2">励学生学习兴趣和自主学习能力发展的评价体</tspan><tspan x="1840" dy="13.2">系。</tspan></text>
</g>
<g id="b2-c2"><text class="p" x="1486" y="1435.6">二、提高集体备课效率</text></g>
<g id="b2-c2-items">
<text class="p" x="1617" y="1243.6">1、理论指导：“先学后教，当堂训练”课堂的<tspan x="1617" dy="13.2">教学模式。把课堂的时间还给学生，教师讲授</tspan><tspan x="1617" dy="13.2">、启发、点拨、和组织教学的时间限制在5-1</tspan><tspan x="1617" dy="13.2">0分钟以内。那么为了在短时间内使教学效果</tspan><tspan x="1617" dy="13.2">更好，目标达成度更高，我们学校开辟了每周</tspan><tspan x="1617" dy="13.2">一次集体备课的大好平台。因为教师集体备课</tspan><tspan x="1617" dy="13.2">是智慧的碰撞，资源的共享，优势的互补，它</tspan><tspan x="1617" dy="13.2">既有利于丰富和发展教师个体，弥补个体在备</tspan><tspan x="1617" dy="13.2">课过程的不足，又有利于激活课堂，提高实效</tspan><tspan x="1617" dy="13.2">，提高教学的整体水平。</tspan></text>
<text class="p" x="1617" y="1570">2、具体做法</text>
<text class="p" x="1704.5" y="1406.6">先周备课。这一环节是在授课前一周进行，备<tspan x="1704.5" dy="13.2">课组长为主持人，确定一名教师为主讲人。要</tspan><tspan x="1704.5" dy="13.2">求主讲人参加集体备课之前要认真写出教学设</tspan><tspan x="1704.5" dy="13.2">计，科学确定教学目标，明确重点难点。同时</tspan><tspan x="1704.5" dy="13.2">，其他教师要结合自己的备课思路提出看法与</tspan><tspan x="1704.5" dy="13.2">意见，进行认真研讨，确定一个最优化的导学</tspan><tspan x="1704.5" dy="13.2">案。</tspan></text>
<text class="p" x="1704.5" y="1692.6">在教师的集体备课中要重点突出以下内容：</text>
<text class="p" x="1928" y="1530.6">(1)教材分析：就是要深刻理解课标，吃透教<tspan x="1928" dy="13.2">材内容，根据课程标准，掌握教材内容，教师</tspan><tspan x="1928" dy="13.2">只有研究教材体系，明确教学任务，弄清教材</tspan><tspan x="1928" dy="13.2">的基本结构、指导思想、知识技能、编写意图</tspan><tspan x="1928" dy="13.2">，才能最终明确教学目标与要求，才能掌握教</tspan><tspan x="1928" dy="13.2">材的重点和难点。的教学思路，备出符合本班</tspan><tspan x="1928" dy="13.2">实际情况的</tspan></text>
<text class="p" x="1928" y="1654.6">(2)突破措施，也就是教法。“教学有法而无定<tspan x="1928" dy="13.2">法”体现了教学方法的层次多样性和形式灵活</tspan><tspan x="1928" dy="13.2">性。教师在备课过程中要充分考虑学生的接受</tspan><tspan x="1928" dy="13.2">能力和容易产生质疑的问题，恰当地运用情景</tspan><tspan x="1928" dy="13.2">教学法、快乐教学法、诱导教学法、感悟教学</tspan><tspan x="1928" dy="13.2">法、探索教学法等。无论哪种教学方法都要贯</tspan><tspan x="1928" dy="13.2">穿于课堂每一环节，做到注重过程教学，发展</tspan><tspan x="1928" dy="13.2">学生潜能。</tspan></text>
<text class="p" x="1928" y="1791.6">(3)教学过程。在这一环节中，教师要写出高<tspan x="1928" dy="13.2">效课堂的预习提纲，着重强调师生思维对话探</tspan><tspan x="1928" dy="13.2">究新知识的过程，要设计好小组交流合作学习</tspan><tspan x="1928" dy="13.2">，质疑的方式和方法，还要注重新知识与实际</tspan><tspan x="1928" dy="13.2">的联系和应用。</tspan></text>
</g>

<!-- 篇4 -->
<g id="b4">
<rect class="nb" x="1211" y="2549" width="249" height="47" rx="20"/>
<text class="n" x="1234.6" y="2568.2">最新九年级第二学期英语教学计划<tspan x="1234.6" dy="17.5">篇4</tspan></text>
</g>
<g id="b4-c1"><text class="p" x="1486" y="2009.3">一、教学目标</text></g>
<g id="b4-c1-items">
<text class="p" x="1577" y="1888.6">1、使学生的思想认识有一定的提高，能热爱<tspan x="1577" dy="13.2">自己的家，孝敬父母亲，在学校能尊敬老师，</tspan><tspan x="1577" dy="13.2">团结同学，还着重培养热爱祖国的感情。</tspan></text>
<text class="p" x="1577" y="1960.6">2、在课堂上培养学生多方面的素质，不能只<tspan x="1577" dy="13.2">重视学习成绩和分数。</tspan></text>
<text class="p" x="1577" y="2018.6">3、提高学生听、说、读、写的各项能力。</text>
<text class="p" x="1577" y="2064.6">4、培养学生良好的阅读和学习习惯。</text>
<text class="p" x="1577" y="2109.6">5、帮助学生树立正确的学习观念、成才观念<tspan x="1577" dy="13.2">。</tspan></text>
</g>
<g id="b4-c2"><text class="p" x="1486" y="2278.6">二、教材分析</text></g>
<g id="b4-c2-items">
<text class="p" x="1577" y="2167.6">1.新教材充分体现了新课标的“以人为本”教学<tspan x="1577" dy="13.2">理念，达到“以人为本”全面发展的新型素质教</tspan><tspan x="1577" dy="13.2">育观，新教材突出了功能和结构的有机结合，</tspan><tspan x="1577" dy="13.2">新教材非常注重话题，每个单元都围绕一个具</tspan><tspan x="1577" dy="13.2">体的话题展开，突出了话题结构、功能、实际</tspan><tspan x="1577" dy="13.2">运用三个方面的结合。让每个话题贴近学生生</tspan><tspan x="1577" dy="13.2">活实际，更便于学生灵活运用。</tspan></text>
<text class="p" x="1577" y="2344.3">2、倡导“任务型”教学，强调课堂上师生互动<tspan x="1577" dy="13.2">。</tspan></text>
<text class="p" x="1809" y="2291.6">本教材共15单元，分二个学期教学。按要求<tspan x="1809" dy="13.2">，第一学期为1-10单元，第二学期为11-15单</tspan><tspan x="1809" dy="13.2">元。课本增加了读写训练的比重，以便于听说</tspan><tspan x="1809" dy="13.2">读写的全面训练。其内容主要反映了学生的日</tspan><tspan x="1809" dy="13.2">常学习和生活。课本设计了中外学生同校学习</tspan><tspan x="1809" dy="13.2">的情景，便于介绍英语国家的风俗习惯和文化</tspan><tspan x="1809" dy="13.2">，题材范围更广，除了学生的学校生活和家庭</tspan><tspan x="1809" dy="13.2">生活，还反映了学生的校外活动、劳动、卫生</tspan><tspan x="1809" dy="13.2">保健、体育运动、节日、尊师爱生、团结友爱</tspan><tspan x="1809" dy="13.2">、助人为乐的道德风尚。</tspan></text>
</g>
<g id="b4-c3"><text class="p" x="1486" y="2546.6">三、学生情况分析</text></g>
<g id="b4-c3-items">
<text class="p" x="1596" y="2454.6">本届学生多为留守儿童,家庭教育的缺失等多<tspan x="1596" dy="13.2">种因素导致学习普遍有困难。基础知识掌握不</tspan><tspan x="1596" dy="13.2">够扎实，第一大题听力得分率往往只有68%</tspan><tspan x="1596" dy="13.2">左右，阅读写作得分率低。课堂学习积极性较</tspan><tspan x="1596" dy="13.2">高，回答问题较积极，绝大多数同学能做到自</tspan><tspan x="1596" dy="13.2">觉完成作业、自觉背诵课文。</tspan></text>
<text class="p" x="1596" y="2565.6">受学习态度、风气的影响，刻苦学习之风渐渐<tspan x="1596" dy="13.2">稀薄，轻浮之风开始产生。很多学生上课不认</tspan><tspan x="1596" dy="13.2">真，课后死记硬背，当然有大部分学生还是劳</tspan><tspan x="1596" dy="13.2">逸结合，掌握了科学的学习方法。从学生成绩</tspan><tspan x="1596" dy="13.2">来看，存在明显不平衡。少数优生优势不明显</tspan><tspan x="1596" dy="13.2">，差生面较广，培尖补差任务重。学生受当今</tspan><tspan x="1596" dy="13.2">社会环境影响，厌学情绪严重。</tspan></text>
</g>
<g id="b4-c4"><text class="p" x="1486" y="3143.6">四、教学措施和要求</text></g>
<g id="b4-c4-items">
<text class="p" x="1607" y="2689.6">要求：</text>
<text class="p" x="1607" y="2734.6">a类学生：课堂上要求能回答较难提问，思考<tspan x="1607" dy="13.2">问题积极，教学任务能当堂完成，课后要求阅</tspan><tspan x="1607" dy="13.2">读一定量课外读物，考试时要求失分不大。</tspan></text>
<text class="p" x="1607" y="2806.6">b类学生：加强双基教学，多鼓励多表扬，使<tspan x="1607" dy="13.2">他们爱好英语，并且用抓两头促中间的办法使</tspan><tspan x="1607" dy="13.2">他们时时有危机感。要求能较好地完成教学任</tspan><tspan x="1607" dy="13.2">务，能回答上课提出的稍难问题。</tspan></text>
<text class="p" x="1607" y="2890.6">c类学生：教学中多关心、多爱护他们，平时<tspan x="1607" dy="13.2">与他们多进行谈话，让他们认识到英语学科的</tspan><tspan x="1607" dy="13.2">重要性，平时对他们要求严格但要求不过高。</tspan></text>
<text class="p" x="1607" y="2962.6">措施：</text>
<text class="p" x="1607" y="3007.2">首先，努力培养培养学生自觉学习的意识和自<tspan x="1607" dy="13.2">主学习的能力.从补习音标自主学习单词开始,</tspan><tspan x="1607" dy="13.2">教会学生如何读熟文章背诵文章学习语法等,</tspan><tspan x="1607" dy="13.2">让学生真正成为学习的主人.教师由知识的传</tspan><tspan x="1607" dy="13.2">授者向学生学习的向导与顾问的角色转变.</tspan></text>
<text class="p" x="1607" y="3104.6">其次，应重视学生学习英语兴趣的培养，激发<tspan x="1607" dy="13.2">学生的学习兴趣。新时期英语教学要提倡“乐”</tspan><tspan x="1607" dy="13.2">的观念，情绪越好，越乐观，对所学内容便会</tspan><tspan x="1607" dy="13.2">发生浓厚的兴趣，学习效果也将越好，提高学</tspan><tspan x="1607" dy="13.2">生学习兴趣。根据初中学生的年龄特点，起始</tspan><tspan x="1607" dy="13.2">阶段的教学要从视听入手，听说的比重应大些</tspan><tspan x="1607" dy="13.2">。</tspan></text>
<text class="p" x="1607" y="3228.6">为实现这个目标，重要的是要调动学生群体的<tspan x="1607" dy="13.2">积极性。</tspan></text>
<text class="p" x="1607" y="3287.6">(1)采用任务型教学，激发学习兴趣，根据初<tspan x="1607" dy="13.2">中学生活泼、好动，对新鲜事物充满好奇的特</tspan><tspan x="1607" dy="13.2">点，可激发学生的学习兴趣，调动其学习积极</tspan><tspan x="1607" dy="13.2">性，使他们在自觉和不自觉状态中，开启“自</tspan><tspan x="1607" dy="13.2">动学习”的心扉。在教学中，可尽量利用实物</tspan><tspan x="1607" dy="13.2">、图片和幻灯等直观教具进行教学。眼观、</tspan><tspan x="1607" dy="13.2">视觉、听觉一起参与感知，将实物与英语联系</tspan><tspan x="1607" dy="13.2">起来，学生获得直观印象后便很快记住了句型</tspan><tspan x="1607" dy="13.2">和生词。</tspan></text>
<text class="p" x="1607" y="3552.6">(2)采用情景教学，创设良好气氛。在日常教<tspan x="1607" dy="13.2">学中，我注意使用情景教学法。以听说训练为</tspan><tspan x="1607" dy="13.2">主导，以课文教学为依托，充分运用现有的教</tspan><tspan x="1607" dy="13.2">学条件和设备，紧扣教材内容，使教学活动尽</tspan><tspan x="1607" dy="13.2">可能置于语言情景中去进行，使学生的理解力</tspan><tspan x="1607" dy="13.2">、记忆力、运用能力处于最佳状态，并在此基</tspan><tspan x="1607" dy="13.2">础上联想、综合，进行创造性学习，从而达到</tspan><tspan x="1607" dy="13.2">掌握和运用语言的目的。</tspan></text>
<text class="p" x="1840" y="3437.2">运用交际手段，培养学生的能力。绝大部分学<tspan x="1840" dy="13.2">生主要是在课堂上学习英语，而在现实生活中</tspan><tspan x="1840" dy="13.2">缺少语言交际的环境和场所。</tspan></text>
<text class="p" x="1840" y="3739.6">如何用好科学的教学方法，在有效的时间内使<tspan x="1840" dy="13.2">学生生动活泼地学习，我将做如下：</tspan></text>
<text class="p" x="2073" y="3547.6">(一)、精心备课是提高课堂效率的前提。</text>
<text class="p" x="2284.5" y="3508.6">大家都懂得提高45分钟课堂效率的重要性。<tspan x="2284.5" dy="13.2">而精心备课则是提高课堂效率的前提。认真的</tspan><tspan x="2284.5" dy="13.2">备课，会使我们做到胸有成竹，无论是重点、</tspan><tspan x="2284.5" dy="13.2">疑点、难点的落实，问题的设计，教法的选择</tspan><tspan x="2284.5" dy="13.2">，都要精心考虑，通盘安排。只有胸中有教材</tspan><tspan x="2284.5" dy="13.2">，眼中有学生(因人施教)，才能运用自如，得</tspan><tspan x="2284.5" dy="13.2">心应手，才能有效提高课堂教学效率。</tspan></text>
<text class="p" x="2073" y="3714.3">(二)、注重非智力因素开发是提高课堂效率的<tspan x="2073" dy="13.2">关键。</tspan></text>
<text class="p" x="2307" y="3633.6">面向全体，全面提高英语教学质量，同时更要<tspan x="2307" dy="13.2">注重非智力因素(即信心、兴趣和习惯等)的开</tspan><tspan x="2307" dy="13.2">发，这对后进生尤为重要，因为他们缺乏主观</tspan><tspan x="2307" dy="13.2">能动性，学习信心不足，兴趣不浓，习惯不好</tspan><tspan x="2307" dy="13.2">，不肯下功夫背单词，或方法不妥导致成绩差</tspan><tspan x="2307" dy="13.2">。爱因斯坦说过“兴趣是最好的老师”。</tspan></text>
<text class="p" x="2307" y="3743.6">初中学生精力旺盛，记忆力好，猎奇心强，求<tspan x="2307" dy="13.2">知欲高，一般都能学好英语的。关键就在我们</tspan><tspan x="2307" dy="13.2">如何千方百计地激发不同层次学习的学习兴趣</tspan><tspan x="2307" dy="13.2">，如开展多种多样的口语活动，朗读比赛，趣</tspan><tspan x="2307" dy="13.2">味游戏等等。不断增添学生的新鲜感，激发学</tspan><tspan x="2307" dy="13.2">习英语的兴趣。</tspan></text>
<text class="p" x="2073" y="3942.6">(三)、上好英语复习课。</text>
<text class="p" x="2212" y="3854.6">初三面临的是毕业考和升学考试对复习课要求<tspan x="2212" dy="13.2">非常之高。英语的复习课不是学习内容的简单</tspan><tspan x="2212" dy="13.2">重复，而是用新的教学方法在高层次上再现以</tspan><tspan x="2212" dy="13.2">前学过的内容。由于范围广、内容多，授课时</tspan><tspan x="2212" dy="13.2">间短，所以复习课也要精心备课，将学过的各</tspan><tspan x="2212" dy="13.2">种语言现象进行系统的归纳、整理、分析。</tspan></text>
<text class="p" x="2212" y="3964.6">要认真设计课堂教学程序，运用系列化教学，<tspan x="2212" dy="13.2">方法要灵活多变，激发学生兴趣，点拨分析，</tspan><tspan x="2212" dy="13.2">鼓励学生多思考、勤实践，不能简单地核对答</tspan><tspan x="2212" dy="13.2">案，草草了事。切忌滥发讲义，将复习课变成</tspan><tspan x="2212" dy="13.2">“题海”战场，如要进行模拟训练，题量也必须</tspan><tspan x="2212" dy="13.2">限制，质量一定要保证。</tspan></text>
</g>

<!-- 篇6 -->
<g id="b6">
<rect class="nb" x="1211" y="4721" width="249" height="47" rx="20"/>
<text class="n" x="1234.6" y="4741.6">最新九年级第二学期英语教学计划<tspan x="1234.6" dy="17.5">篇6</tspan></text>
</g>
<g id="b6-c1"><text class="p" x="1486" y="4350.6">一指导思想:</text></g>
<g id="b6-c1-items">
<text class="p" x="1577" y="4076.6">深入贯彻新课程教学理念，认真总结上一届初<tspan x="1577" dy="13.2">三的教学经验，努力夯实学生的英语基本功，</tspan><tspan x="1577" dy="13.2">不断加强学生的口语、听力和阅读能力的培养</tspan><tspan x="1577" dy="13.2">和指导，使学生在英语运用能力方面得到进一</tspan><tspan x="1577" dy="13.2">步的提高，为中考奠定基础。</tspan></text>
<text class="p" x="1577" y="4173.6">二.教材分析</text>
<text class="p" x="1577" y="4218.6">《新目标英语》九年级共安排有十五个单元，<tspan x="1577" dy="13.2">各单元话题灵活有趣，贴近学生生活实际，本</tspan><tspan x="1577" dy="13.2">册书将学习的一些语法知识点有：被动语态，</tspan><tspan x="1577" dy="13.2">虚拟语气，情态动词，定语从句，短语动词，</tspan><tspan x="1577" dy="13.2">过去完成时等。同时每个单元都增加了文化背</tspan><tspan x="1577" dy="13.2">景知识和学习策略，并增加了任务型学习成分</tspan><tspan x="1577" dy="13.2">与语篇输入，提供了一篇具有跨文化内容的阅</tspan><tspan x="1577" dy="13.2">读文章及相关的练习，用以训练学生的阅读能</tspan><tspan x="1577" dy="13.2">力，扩大学生的阅读量。</tspan></text>
<text class="p" x="1577" y="4407.6">三、学情分析</text>
<text class="p" x="1670" y="4368.6">这个年级共有20个教学班大多数学生能基本<tspan x="1670" dy="13.2">掌握所学知识，能听懂并运用所学英语去进行</tspan><tspan x="1670" dy="13.2">英语交流。一部分学生英语有较高的兴趣，能</tspan><tspan x="1670" dy="13.2">积极学习并参与课堂活动，英语学科成绩较好</tspan><tspan x="1670" dy="13.2">，但问题学生也不少，学生发展参差不齐，这</tspan><tspan x="1670" dy="13.2">给教学带来不少困难，再加上本学期时间紧任</tspan><tspan x="1670" dy="13.2">务重，更给老师们增添了不小的压力。</tspan></text>
<text class="p" x="1577" y="4596.6">四、教学策略及措施</text>
<text class="p" x="1701" y="4493.6">1、教学应面向全体学生，注重对学生进行运<tspan x="1701" dy="13.2">用英语能力的培养，力争人人都有进步;</tspan></text>
<text class="p" x="1701" y="4551.6">2、对学生因材实教，尊重学生个体差异，力<tspan x="1701" dy="13.2">争让不同学生全面发展;</tspan></text>
<text class="p" x="1701" y="4609.6">3、采用“任务型”活动教学，鼓励学生参与体<tspan x="1701" dy="13.2">验与交流，力争让学生增强对英语的学习兴趣</tspan><tspan x="1701" dy="13.2">。</tspan></text>
<text class="p" x="1701" y="4680.6">4、充分利用课堂作业与课外作业，严格要求<tspan x="1701" dy="13.2">学生抓好落实，强化所学，力争让每位学生皆</tspan><tspan x="1701" dy="13.2">有所获。</tspan></text>
</g>
<g id="b6-c2"><text class="p" x="1486" y="5148.6">采取的措施：</text></g>
<g id="b6-c2-items">
<text class="p" x="1577" y="4771.6">1. 研究集体备课。</text>
<text class="p" x="1689" y="4752.6">集体备课要定时间，有效率，内容切实落实。<tspan x="1689" dy="13.2">有针对性，让学生有收获，抓主题和重点。集</tspan><tspan x="1689" dy="13.2">体备课还要研究中考，把握中考方向，研究题</tspan><tspan x="1689" dy="13.2">型，做到早抓、多落实、多检验、找漏洞。</tspan></text>
<text class="p" x="1577" y="4856.6">2. 了解学生，心中有数。</text>
<text class="p" x="1719.5" y="4837.6">各班都有不同层次的学生，要求老师们做到对<tspan x="1719.5" dy="13.2">学生的学习状况了如指点，有针对性地加以指</tspan><tspan x="1719.5" dy="13.2">导，注重面对面的辅导，了解学生的弱点和不</tspan><tspan x="1719.5" dy="13.2">足，及时查缺补漏。</tspan></text>
<text class="p" x="1577" y="4961.6">3. 针对中考题型，有目的、有针对性地有效<tspan x="1577" dy="13.2">练习，对学生进行解题方法和技巧的辅导。</tspan></text>
<text class="p" x="1809" y="4922.6">英语学科和其他学科有些差异，同样的意思，<tspan x="1809" dy="13.2">有不同的表达方式，但有的表达得分，有的就</tspan><tspan x="1809" dy="13.2">会丢分，特别是“任务型阅读”和“情景作文”这</tspan><tspan x="1809" dy="13.2">样的题型上，由于关键词和句型掌握得不好，</tspan><tspan x="1809" dy="13.2">失分较多。“作文”方面，我们很多学生文采飞</tspan><tspan x="1809" dy="13.2">扬，作文写得很漂亮，但不能得满意的分数。</tspan><tspan x="1809" dy="13.2">所以在这方面，我们要帮助学生在答题技巧上</tspan><tspan x="1809" dy="13.2">下功夫，争取既有创意，又合乎规范。</tspan></text>
<text class="p" x="1577" y="5058.6">4. 落实基础知识，掌握准确不丢分。</text>
<text class="p" x="1577" y="5104.1">5.认真钻研教材和课标，利用备课组的集体智<tspan x="1577" dy="13.2">慧精心备课，明确每堂课的基础内容和拓展内</tspan><tspan x="1577" dy="13.2">容，满足不同层次学生的不同需求，做到上好</tspan><tspan x="1577" dy="13.2">每一堂课。</tspan></text>
<text class="p" x="1577" y="5188.6">6.充分利用多媒体教学设备，加强直观教学，<tspan x="1577" dy="13.2">提高课堂教学效率。</tspan></text>
<text class="p" x="1577" y="5247.6">7.不断学习，加强自身素质和业务能力的提高<tspan x="1577" dy="13.2">。</tspan></text>
<text class="p" x="1809" y="5253.6">五.活动安排:</text>
<text class="p" x="1577" y="5305.6">1. 做好新课程课协调工作，并对电子备课及<tspan x="1577" dy="13.2">时检查，了解反馈使用情况。</tspan></text>
<text class="p" x="1577" y="5362.6">2. 做好听力、口语考查前指导.</text>
<text class="p" x="1577" y="5408.6">3. 做好校本课程教学工作,利用好多媒体资源,<tspan x="1577" dy="13.2">精心做好课件，准备好试题.</tspan></text>
<text class="p" x="1577" y="5466.6">4. 每周四下午一二节集体备课，并认真讨论<tspan x="1577" dy="13.2">，填写备课记录，按时上交.</tspan></text>
<text class="p" x="1577" y="5525.6">6. 出好中考模拟试题,资源共享。</text>
</g>
</g>
</svg>
